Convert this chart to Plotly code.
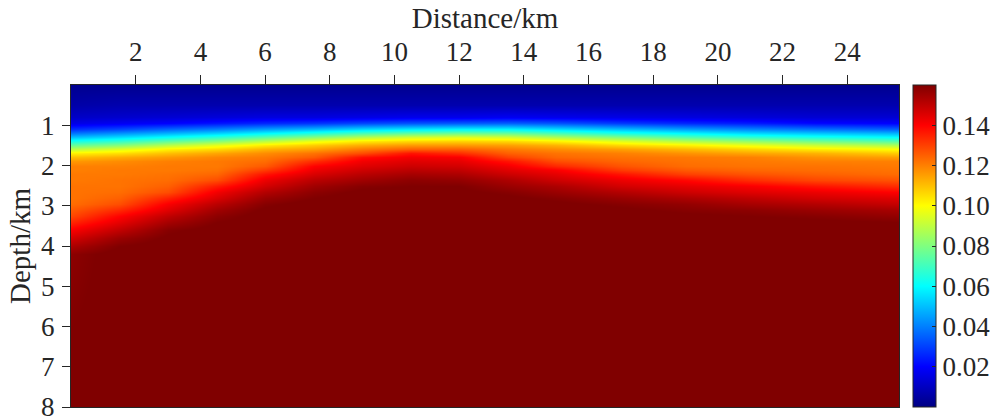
import numpy as np
import plotly.graph_objects as go

# Distance (km) of each sampled column and depth (km) of each sampled row
distance_km = [0, 1.5, 3, 4.5, 6, 7.5, 9, 10.5, 12, 13.5, 15, 17, 19, 21, 23, 25.6]
depth_km = [0, 0.5, 0.8, 0.95, 1.1, 1.2, 1.3, 1.4, 1.5, 1.6, 1.7, 1.8, 1.9, 2.0, 2.1,
            2.2, 2.35, 2.5, 2.65, 2.8, 2.95, 3.1, 3.25, 3.4, 3.6, 3.8, 4.0, 4.2, 8.0]

# Field values (in units of 0.001) down each column
col_x00_0 = [2, 6, 11, 16, 27, 38, 50, 63, 76, 89, 102, 110, 116, 120, 120, 121, 121, 122, 122, 122, 123, 126, 129, 134, 141, 147, 153, 158, 162]
col_x01_5 = [2, 7, 12, 18, 31, 43, 55, 68, 81, 95, 105, 113, 118, 120, 121, 121, 122, 122, 123, 125, 128, 134, 140, 144, 150, 156, 160, 162, 162]
col_x03_0 = [2, 7, 13, 20, 36, 48, 61, 75, 89, 102, 110, 116, 120, 121, 121, 122, 123, 125, 128, 135, 141, 145, 150, 154, 159, 161, 162, 162, 162]
col_x04_5 = [2, 7, 14, 23, 40, 53, 67, 81, 96, 106, 114, 119, 121, 121, 122, 124, 128, 136, 142, 146, 151, 155, 158, 160, 162, 162, 162, 162, 162]
col_x06_0 = [2, 7, 15, 26, 45, 59, 74, 89, 103, 112, 118, 121, 123, 126, 131, 137, 143, 147, 152, 156, 159, 161, 162, 162, 162, 162, 162, 162, 162]
col_x07_5 = [2, 7, 15, 28, 49, 65, 81, 97, 108, 115, 122, 126, 133, 140, 143, 146, 151, 155, 158, 160, 162, 162, 162, 162, 162, 162, 162, 162, 162]
col_x09_0 = [2, 7, 16, 31, 54, 71, 88, 103, 113, 121, 128, 138, 142, 145, 148, 151, 155, 159, 161, 162, 162, 162, 162, 162, 162, 162, 162, 162, 162]
col_x10_5 = [2, 7, 17, 33, 57, 75, 93, 106, 116, 125, 137, 142, 145, 148, 151, 154, 158, 160, 162, 162, 162, 162, 162, 162, 162, 162, 162, 162, 162]
col_x12_0 = [2, 7, 17, 34, 59, 77, 95, 107, 116, 125, 133, 141, 144, 147, 150, 153, 157, 160, 161, 162, 162, 162, 162, 162, 162, 162, 162, 162, 162]
col_x13_5 = [2, 7, 18, 35, 59, 76, 93, 106, 115, 121, 125, 130, 137, 142, 145, 148, 153, 156, 159, 161, 162, 162, 162, 162, 162, 162, 162, 162, 162]
col_x15_0 = [2, 7, 17, 33, 55, 71, 87, 102, 112, 118, 122, 124, 128, 134, 141, 144, 148, 153, 156, 159, 161, 162, 162, 162, 162, 162, 162, 162, 162]
col_x17_0 = [2, 7, 16, 29, 50, 64, 80, 95, 106, 115, 120, 122, 124, 127, 131, 137, 143, 147, 152, 156, 159, 161, 162, 162, 162, 162, 162, 162, 162]
col_x19_0 = [2, 7, 15, 26, 45, 59, 73, 88, 102, 111, 117, 121, 122, 123, 126, 130, 139, 144, 148, 153, 157, 159, 161, 162, 162, 162, 162, 162, 162]
col_x21_0 = [2, 7, 14, 24, 41, 54, 68, 83, 97, 107, 114, 120, 121, 122, 124, 127, 133, 141, 145, 150, 154, 158, 160, 162, 162, 162, 162, 162, 162]
col_x23_0 = [2, 7, 13, 21, 38, 51, 64, 78, 92, 103, 112, 117, 120, 122, 123, 125, 129, 137, 143, 147, 152, 156, 159, 161, 162, 162, 162, 162, 162]
col_x25_6 = [2, 7, 13, 20, 35, 48, 60, 73, 87, 100, 108, 115, 120, 121, 122, 123, 127, 133, 140, 145, 149, 154, 157, 160, 162, 162, 162, 162, 162]

columns = [col_x00_0, col_x01_5, col_x03_0, col_x04_5, col_x06_0, col_x07_5, col_x09_0,
           col_x10_5, col_x12_0, col_x13_5, col_x15_0, col_x17_0, col_x19_0, col_x21_0,
           col_x23_0, col_x25_6]

x_ticks = [2, 4, 6, 8, 10, 12, 14, 16, 18, 20, 22, 24]
y_ticks = [1, 2, 3, 4, 5, 6, 7, 8]
cbar_ticks = [0.02, 0.04, 0.06, 0.08, 0.10, 0.12, 0.14]

z = (np.array(columns, dtype=float).T) / 1000.0

jet = [
    [0.0, "rgb(0,0,131)"],
    [0.125, "rgb(0,0,255)"],
    [0.375, "rgb(0,255,255)"],
    [0.625, "rgb(255,255,0)"],
    [0.875, "rgb(255,0,0)"],
    [1.0, "rgb(128,0,0)"],
]

FONT = "Liberation Serif, Times New Roman, serif"
INK = "#262626"

fig = go.Figure(
    go.Heatmap(
        x=distance_km,
        y=depth_km,
        z=z,
        zsmooth="best",
        colorscale=jet,
        zmin=0,
        zmax=0.16,
        colorbar=dict(
            x=1.017,
            xanchor="left",
            xpad=0,
            ypad=0,
            y=0.5,
            yanchor="middle",
            len=1.0,
            lenmode="fraction",
            thickness=23,
            outlinecolor=INK,
            outlinewidth=1,
            ticks="inside",
            ticklen=4,
            tickcolor=INK,
            tickvals=cbar_ticks,
            ticktext=["%.2f" % v for v in cbar_ticks],
            tickfont=dict(family=FONT, size=27, color=INK),
        ),
        showscale=True,
    )
)

fig.update_layout(
    width=995,
    height=416,
    margin=dict(l=71, r=96, t=85, b=9, autoexpand=False),
    paper_bgcolor="white",
    plot_bgcolor="white",
    font=dict(family=FONT, color=INK),
    xaxis=dict(
        side="top",
        range=[0, 25.6],
        tickvals=x_ticks,
        ticks="outside",
        ticklen=9,
        tickcolor=INK,
        tickfont=dict(family=FONT, size=27, color=INK),
        ticklabelstandoff=3,
        showline=True,
        linecolor=INK,
        linewidth=1,
        mirror=True,
        showgrid=False,
        zeroline=False,
        automargin=False,
        title=dict(text="Distance/km", font=dict(family=FONT, size=29, color=INK), standoff=0),
    ),
    yaxis=dict(
        range=[8, 0],
        tickvals=y_ticks,
        ticks="outside",
        ticklen=8,
        tickcolor=INK,
        tickfont=dict(family=FONT, size=27, color=INK),
        ticklabelstandoff=2,
        ticklabeloverflow="allow",
        showline=True,
        linecolor=INK,
        linewidth=1,
        mirror=True,
        showgrid=False,
        zeroline=False,
        automargin=False,
        title=dict(text="Depth/km", font=dict(family=FONT, size=29, color=INK), standoff=1),
    ),
)

fig.write_html("out.html")
